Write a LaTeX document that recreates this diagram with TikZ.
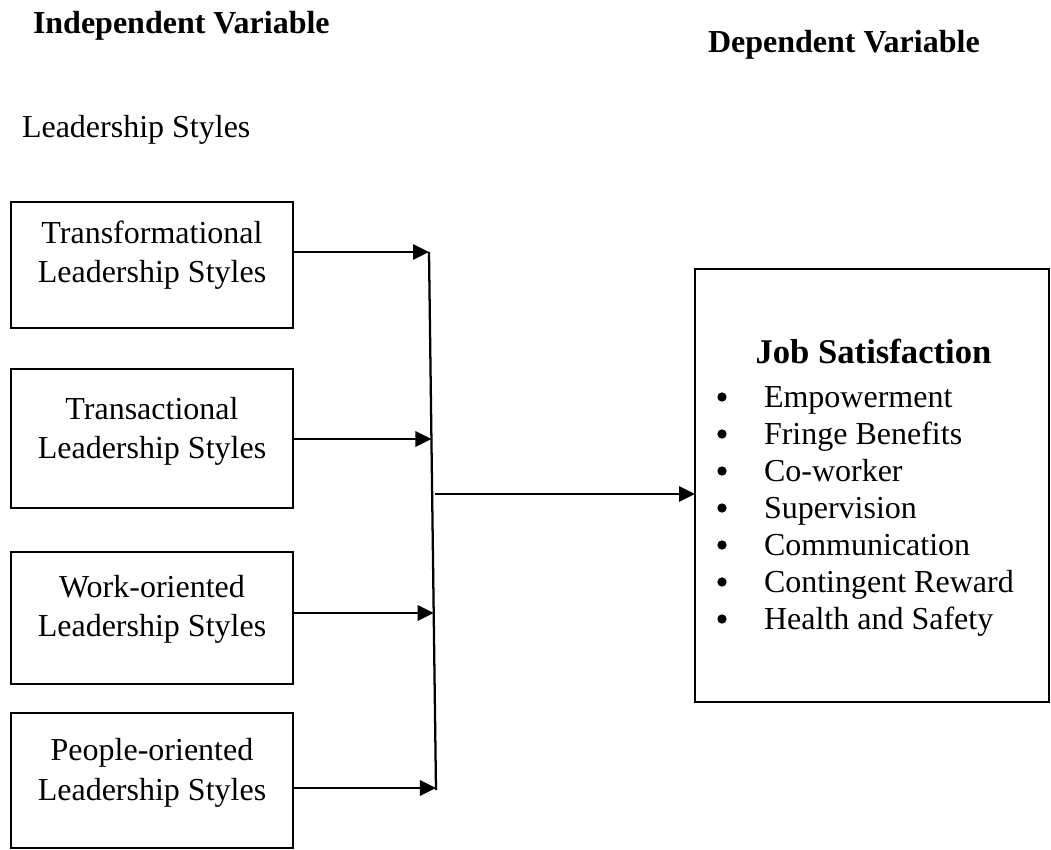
\documentclass[tikz,border=0pt]{standalone}
\usepackage{fontspec}
\setmainfont{Liberation Serif}
\usetikzlibrary{arrows.meta,calc}

\begin{document}
\begin{tikzpicture}[x=0.75pt,y=-0.75pt,
  every node/.style={inner sep=0pt,outer sep=0pt},
  txt/.style={font=\fontsize{24}{29.6}\selectfont,align=center},
  head/.style={font=\fontsize{24}{29.6}\selectfont\bfseries,anchor=base west},
  srcbox/.style={draw,line width=1.6pt,minimum width=211.5pt},
  conn/.style={line width=1.7pt,-{Triangle[length=12pt,width=11.5pt]}},
  bar/.style={line width=1.7pt},
  dot/.style={circle,fill,minimum size=7pt}]

\useasboundingbox (0,0) rectangle (1051,850);

% headings
\node[head] (hind) at (33,33) {Independent Variable};
\node[head] (hdep) at (708,52) {Dependent Variable};
\node[head,font=\fontsize{24}{29.6}\selectfont] (hls) at (22,137) {Leadership Styles};

% leadership style boxes
\node[srcbox,minimum height=94.5pt]  (b1) at (152,265)   {};
\node[srcbox,minimum height=104.25pt](b2) at (152,438.5) {};
\node[srcbox,minimum height=99pt]    (b3) at (152,618)   {};
\node[srcbox,minimum height=101.25pt](b4) at (152,780.5) {};

\node[txt] (t1) at (152,255)   {Transformational\\Leadership Styles};
\node[txt] (t2) at (152,431.5) {Transactional\\Leadership Styles};
\node[txt] (t3) at (152,609.5) {Work-oriented\\Leadership Styles};
\node[txt] (t4) at (152,773)   {People-oriented\\Leadership Styles};

% collecting bar
\coordinate (j1) at (429,252);
\coordinate (j4) at (436,790);
\draw[bar] (j1) -- (j4);

\coordinate (a1) at (j1);
\coordinate (a2) at ($(j1)!0.3476!(j4)$);
\coordinate (a3) at ($(j1)!0.6710!(j4)$);
\coordinate (a4) at ($(j1)!0.9963!(j4)$);
\coordinate (am) at ($(j1)!0.4498!(j4)+(3,0)$);

\draw[conn] (b1.east |- a1) -- (a1);
\draw[conn] (b2.east |- a2) -- (a2);
\draw[conn] (b3.east |- a3) -- (a3);
\draw[conn] (b4.east |- a4) -- (a4);

% dependent variable box
\node[draw,line width=1.6pt,minimum width=265.5pt,minimum height=324.75pt] (js) at (872,485.5) {};
\draw[conn] (am) -- (js.west |- am);

\node[font=\fontsize{26}{30}\selectfont\bfseries,anchor=base] (jst) at (873.5,363) {Job Satisfaction};

\foreach \k/\item in {0/Empowerment,1/Fringe Benefits,2/Co-worker,3/Supervision,
                      4/Communication,5/Contingent Reward,6/Health and Safety}{
  \node[dot] (bul\k) at (722,397+37*\k) {};
  \node[font=\fontsize{24}{29.6}\selectfont,anchor=base west] (itm\k) at (764,407+37*\k) {\item};
}
\end{tikzpicture}
\end{document}
